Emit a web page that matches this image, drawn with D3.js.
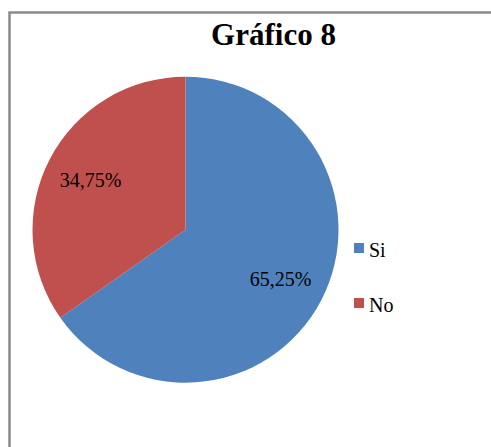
<!DOCTYPE html>
<html>
<head>
<meta charset="utf-8">
<script src="https://cdn.jsdelivr.net/npm/d3@7"></script>
<style>
  html, body { margin: 0; padding: 0; background: #fff; }
  svg { display: block; }
</style>
</head>
<body>
<div id="chart"></div>
<script>
// Chart data
const categories = ['Si', 'No'];
const values = [65.25, 34.75];
const labels = ['65,25%', '34,75%'];
const colors = ['#4F81BD', '#C0504D'];
const title = 'Gráfico 8';

const width = 491;
const height = 447;
const cx = 185.5;
const cy = 229.7;
const radius = 153;
const font = "'Liberation Serif', 'Times New Roman', Tinos, monospace";

const svg = d3.select('#chart')
  .append('svg')
  .attr('width', width)
  .attr('height', height);

// Outer frame (runs off the right and bottom edges)
svg.append('rect')
  .attr('x', 9.5)
  .attr('y', 12.5)
  .attr('width', 520)
  .attr('height', 500)
  .attr('fill', 'none')
  .attr('stroke', '#8a8a8a')
  .attr('stroke-width', 2.5);

// Title
svg.append('text')
  .attr('x', 273.5)
  .attr('y', 45)
  .attr('text-anchor', 'middle')
  .attr('font-family', font)
  .attr('font-weight', 'bold')
  .attr('font-size', 31)
  .text(title);

const data = categories.map((c, i) => ({ name: c, value: values[i], label: labels[i], color: colors[i] }));

const pie = d3.pie()
  .sort(null)
  .value(d => d.value);

const arc = d3.arc()
  .innerRadius(0)
  .outerRadius(radius);

const labelArc = d3.arc()
  .innerRadius(radius * 0.7)
  .outerRadius(radius * 0.7);

const g = svg.append('g')
  .attr('transform', `translate(${cx},${cy})`);

const slices = pie(data);

g.selectAll('path.slice')
  .data(slices)
  .enter()
  .append('path')
  .attr('class', 'slice')
  .attr('d', arc)
  .attr('fill', d => d.data.color);

g.selectAll('text.pct')
  .data(slices)
  .enter()
  .append('text')
  .attr('class', 'pct')
  .attr('transform', d => {
    const [x, y] = labelArc.centroid(d);
    return `translate(${x},${y})`;
  })
  .attr('dy', '0.35em')
  .attr('text-anchor', 'middle')
  .attr('font-family', font)
  .attr('font-size', 20)
  .attr('fill', '#000')
  .text(d => d.data.label);

// Legend
const legend = svg.append('g')
  .attr('transform', 'translate(354,243)');

const item = legend.selectAll('g.item')
  .data(data)
  .enter()
  .append('g')
  .attr('class', 'item')
  .attr('transform', (d, i) => `translate(0,${i * 55})`);

item.append('rect')
  .attr('width', 10)
  .attr('height', 10)
  .attr('fill', d => d.color);

item.append('text')
  .attr('x', 15)
  .attr('y', 13.7)
  .attr('font-family', font)
  .attr('font-size', 20)
  .text(d => d.name);
</script>
</body>
</html>
